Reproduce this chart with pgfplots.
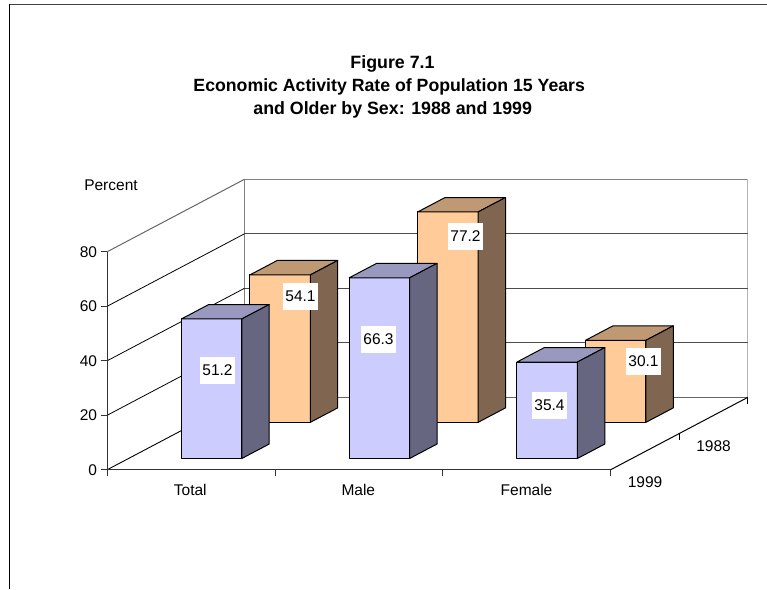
\documentclass[border=0pt]{standalone}
\usepackage{fontspec}
\setmainfont{Liberation Sans}
\usepackage{pgfplots}
\pgfplotsset{compat=1.18}
\definecolor{fa}{HTML}{CCCCFF}\definecolor{ta}{HTML}{9999C0}\definecolor{sa}{HTML}{666680}
\definecolor{fb}{HTML}{FFCC99}\definecolor{tb}{HTML}{BF9973}\definecolor{sb}{HTML}{806650}
\newcommand{\threebar}[7]{% x0 x1 y0 y1 value front side
 \addplot3[draw=black,line width=1pt,fill=#6,line join=round] coordinates {(#1,#3,0)(#2,#3,0)(#2,#3,#5)(#1,#3,#5)} --cycle;
 \addplot3[draw=black,line width=1pt,fill=\csname top#6\endcsname,line join=round] coordinates {(#1,#3,#5)(#2,#3,#5)(#2,#4,#5)(#1,#4,#5)} --cycle;
 \addplot3[draw=black,line width=1pt,fill=#7,line join=round] coordinates {(#2,#3,0)(#2,#4,0)(#2,#4,#5)(#2,#3,#5)} --cycle;
}
\expandafter\def\csname topfa\endcsname{ta}
\expandafter\def\csname topfb\endcsname{tb}
\newcommand{\lab}[3]{\node[fill=white,inner sep=0pt,minimum width=35pt,minimum height=27pt,font=\fontsize{15.5}{18}\selectfont] at (axis cs:#1,0,#2) {#3};}
\begin{document}
\begin{tikzpicture}[x=1pt,y=1pt]
\useasboundingbox (0,0) rectangle (767,589);
\fill[white] (0,0) rectangle (767,589);
\draw[line width=1.6pt,black!75] (8.5,584.5) -- (767,584.5);
\draw[line width=1.3pt,black] (9.3,585) -- (9.3,0);
\begin{axis}[
  at={(107.3pt,119.3pt)},anchor=origin,
  x={(167.8pt,0pt)},y={(137pt,72.3pt)},z={(0pt,2.725pt)},
  xmin=0,xmax=3,ymin=0,ymax=1,zmin=0,zmax=80,
  hide axis,clip=false,
  every axis plot/.append style={mark=none},
]
% back wall
\addplot3[gray,line width=1pt] coordinates {(0,1,0)(0,1,80)(3,1,80)};
\addplot3[black!30,line width=1pt] coordinates {(3,1,0)(3,1,80)};
\addplot3[black!70,line width=0.9pt] coordinates {(0,1,60)(3,1,60)};
\addplot3[black!70,line width=0.9pt] coordinates {(0,1,40)(3,1,40)};
\addplot3[black!70,line width=0.9pt] coordinates {(0,1,20)(3,1,20)};
\addplot3[black!60,line width=0.9pt] coordinates {(0,1,0)(3,1,0)};
% left wall
\addplot3[black!60,line width=1pt] coordinates {(0,0,80)(0,1,80)};
\addplot3[black,line width=0.8pt] coordinates {(0,0,60)(0,1,60)};
\addplot3[black,line width=0.8pt] coordinates {(0,0,40)(0,1,40)};
\addplot3[black,line width=0.8pt] coordinates {(0,0,20)(0,1,20)};
\addplot3[black,line width=0.9pt] coordinates {(0,0,0)(0,1,0)};
% 1988 bars
\threebar{0.315}{0.675}{0.655}{0.855}{54.1}{fb}{sb}
\threebar{1.315}{1.675}{0.655}{0.855}{77.2}{fb}{sb}
\threebar{2.315}{2.675}{0.655}{0.855}{30.1}{fb}{sb}
% 1999 bars
\threebar{0.315}{0.675}{0.155}{0.355}{51.2}{fa}{sa}
\threebar{1.315}{1.675}{0.155}{0.355}{66.3}{fa}{sa}
\threebar{2.315}{2.675}{0.155}{0.355}{35.4}{fa}{sa}
% axes
\addplot3[black!80,line width=1.1pt] coordinates {(0,0,0)(0,0,80)};
\addplot3[black!80,line width=1.1pt] coordinates {(0,0,0)(3,0,0)};
\addplot3[black,line width=1pt] coordinates {(3,0,0)(3,1,0)};
\addplot3[black!80,line width=1pt] coordinates {(-0.04,0,0)(0,0,0)};
\addplot3[black!80,line width=1pt] coordinates {(-0.04,0,20)(0,0,20)};
\addplot3[black!80,line width=1pt] coordinates {(-0.04,0,40)(0,0,40)};
\addplot3[black!80,line width=1pt] coordinates {(-0.04,0,60)(0,0,60)};
\addplot3[black!80,line width=1pt] coordinates {(-0.04,0,80)(0,0,80)};
\addplot3[black!80,line width=1pt] coordinates {(0,0,0)(0,0,-2.4)};
\addplot3[black!80,line width=1pt] coordinates {(1,0,0)(1,0,-2.4)};
\addplot3[black!80,line width=1pt] coordinates {(2,0,0)(2,0,-2.4)};
\addplot3[black!80,line width=1pt] coordinates {(3,0,0)(3,0,-2.4)};
\addplot3[black,line width=1pt] coordinates {(3,0.5,0)(3,0.5,-2.4)};
\addplot3[black,line width=1pt] coordinates {(3,1,0)(3,1,-2.4)};
% value labels
\lab{0.6567}{36.48}{51.2}
\lab{1.1514}{63.56}{54.1}
\lab{1.6162}{47.78}{66.3}
\lab{2.1347}{85.58}{77.2}
\lab{2.6353}{23.56}{35.4}
\lab{3.1955}{39.71}{30.1}
\end{axis}
\begin{scope}[every node/.style={font=\fontsize{15.5}{18}\selectfont,inner sep=0pt}]
\node[anchor=base east] at (97.3,331.5) {80};
\node[anchor=base east] at (97.3,277) {60};
\node[anchor=base east] at (97.3,222.5) {40};
\node[anchor=base east] at (97.3,168) {20};
\node[anchor=base east] at (97.3,113.5) {0};
\node[anchor=base] at (111,398) {Percent};
\node[anchor=base] at (190.3,94) {Total};
\node[anchor=base] at (358.3,94) {Male};
\node[anchor=base] at (526.5,94) {Female};
\node[anchor=base] at (645,101.7) {1999};
\node[anchor=base] at (713.5,137.7) {1988};
\node[anchor=base,font=\fontsize{17.8}{23}\selectfont\bfseries] at (392.5,520) {Figure 7.1};
\node[anchor=base,font=\fontsize{17.7}{23}\selectfont\bfseries] at (389.2,497) {Economic Activity Rate of Population 15 Years};
\node[anchor=base,font=\fontsize{17.8}{23}\selectfont\bfseries] at (392.7,474.3) {and Older by Sex: 1988 and 1999};
\end{scope}
\end{tikzpicture}
\end{document}
